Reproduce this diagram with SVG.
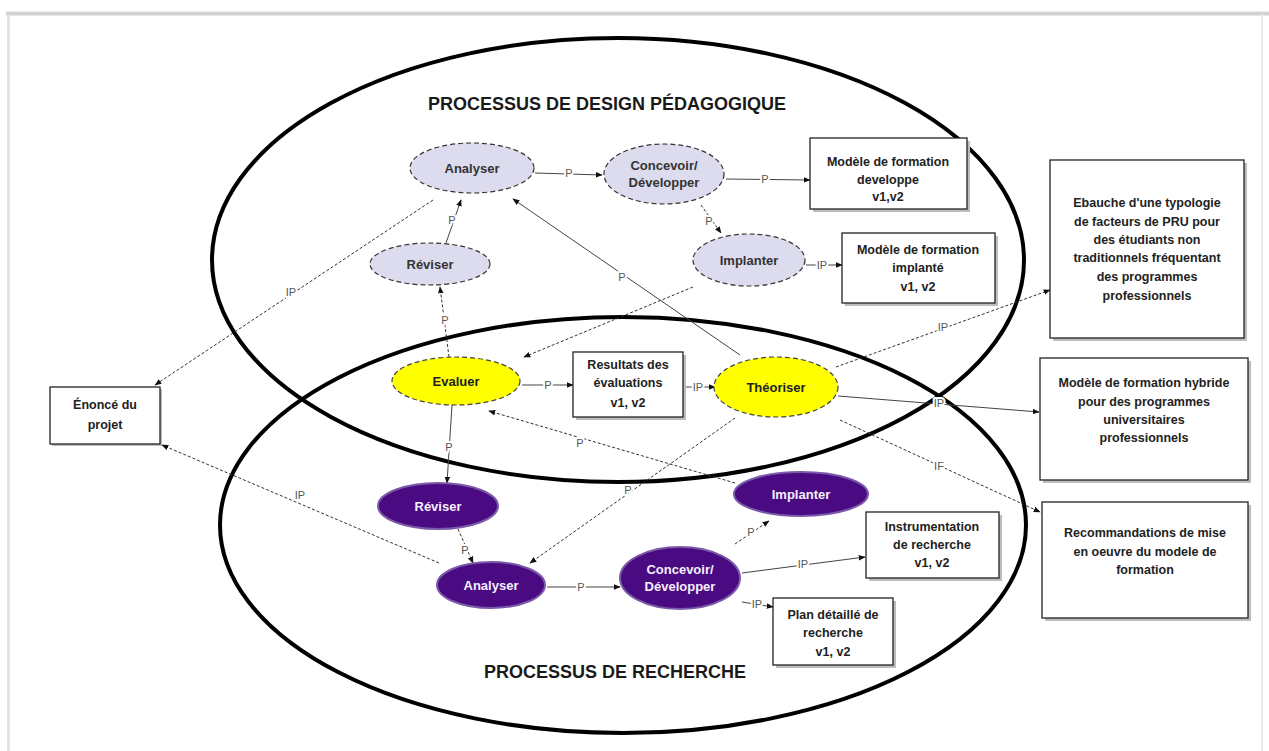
<svg xmlns="http://www.w3.org/2000/svg" width="1269" height="751" viewBox="0 0 1269 751">
<defs>
<marker id="ah" viewBox="0 0 10 10" refX="9" refY="5" markerWidth="7" markerHeight="7" orient="auto-start-reverse" markerUnits="userSpaceOnUse">
<path d="M0,1 L10,5 L0,9 z" fill="#111"/>
</marker>
<linearGradient id="topband" x1="0" y1="0" x2="0" y2="1">
<stop offset="0" stop-color="#f2f2f2"/>
<stop offset="0.5" stop-color="#c8c8c8"/>
<stop offset="1" stop-color="#ececec"/>
</linearGradient>
</defs>
<style>
text{font-family:"Liberation Sans",Arial,sans-serif}
.title{font-size:18px;font-weight:bold;fill:#1a1a1a}
.nt{font-size:13px;font-weight:bold;fill:#333;text-anchor:middle}
.nw{font-size:13px;font-weight:bold;fill:#f4f0ff;text-anchor:middle}
.bt{font-size:12.5px;font-weight:bold;fill:#222;text-anchor:middle}
.lbl{font-size:11px;fill:#555;text-anchor:middle;paint-order:stroke;stroke:#fff;stroke-width:4px;stroke-linejoin:round}
.big{fill:none;stroke:#000;stroke-width:4}
.lav{fill:#dcdcee;stroke:#333;stroke-width:1.2;stroke-dasharray:5,3}
.yel{fill:#ffff00;stroke:#444;stroke-width:1.2;stroke-dasharray:5,3}
.pur{fill:#4a0a82;stroke:#7a5aa8;stroke-width:2}
.box{fill:#fff;stroke:#222;stroke-width:1.3}
.sh{fill:#bdbdbd}
.c{fill:none;stroke:#444;stroke-width:1;marker-end:url(#ah)}
.d{fill:none;stroke:#333;stroke-width:1;stroke-dasharray:3,2;marker-end:url(#ah)}
</style>
<rect x="0" y="0" width="1269" height="751" fill="#fff"/>
<!-- frame -->
<rect x="6" y="11" width="1263" height="5" fill="url(#topband)"/>
<rect x="7" y="14" width="3" height="737" fill="#e4e4e4"/>
<rect x="1261" y="14" width="2" height="737" fill="#ececec"/>

<!-- big ellipses -->
<g id="process-design">
<ellipse class="big" cx="618" cy="260" rx="406" ry="222"/>
<text class="title" x="428" y="110">PROCESSUS DE DESIGN PÉDAGOGIQUE</text>
</g>
<g id="process-recherche">
<ellipse class="big" cx="623" cy="525" rx="403" ry="208"/>
<text class="title" x="484" y="678">PROCESSUS DE RECHERCHE</text>
</g>

<!-- connectors -->
<g id="connectors">
<line class="c" x1="535" y1="173" x2="602" y2="175"/>
<text class="lbl" x="569" y="177">P</text>
<line class="c" x1="726" y1="179" x2="810" y2="180"/>
<text class="lbl" x="765" y="183">P</text>
<line class="d" x1="701" y1="205" x2="721" y2="233"/>
<text class="lbl" x="709" y="225">P</text>
<line class="c" x1="806" y1="265" x2="842" y2="265"/>
<text class="lbl" x="822" y="269">IP</text>
<line class="c" x1="446" y1="243" x2="461" y2="200"/>
<text class="lbl" x="452" y="224">P</text>
<line class="d" x1="449" y1="357" x2="440" y2="287"/>
<text class="lbl" x="445" y="324">P</text>
<line class="d" x1="433" y1="200" x2="155" y2="385"/>
<text class="lbl" x="291" y="296">IP</text>
<line class="c" x1="740" y1="355" x2="513" y2="199"/>
<text class="lbl" x="622" y="281">P</text>
<line class="d" x1="693" y1="287" x2="524" y2="357"/>
<line class="c" x1="522" y1="385" x2="573" y2="385"/>
<text class="lbl" x="548" y="389">P</text>
<line class="c" x1="685" y1="387" x2="715" y2="387"/>
<text class="lbl" x="698" y="391">IP</text>
<line class="d" x1="836" y1="367" x2="1050" y2="290"/>
<text class="lbl" x="943" y="331">IP</text>
<line class="c" x1="838" y1="396" x2="1039" y2="412"/>
<text class="lbl" x="939" y="407">IP</text>
<line class="d" x1="840" y1="420" x2="1040" y2="512"/>
<text class="lbl" x="939" y="470">IF</text>
<line class="d" x1="735" y1="418" x2="530" y2="563"/>
<text class="lbl" x="628" y="494">P</text>
<line class="d" x1="735" y1="483" x2="489" y2="411"/>
<text class="lbl" x="580" y="447">P</text>
<line class="c" x1="452" y1="405" x2="447" y2="483"/>
<text class="lbl" x="449" y="451">P</text>
<line class="d" x1="458" y1="529" x2="473" y2="563"/>
<text class="lbl" x="465" y="554">P</text>
<line class="d" x1="439" y1="563" x2="162" y2="445"/>
<text class="lbl" x="300" y="499">IP</text>
<line class="c" x1="547" y1="587" x2="620" y2="587"/>
<text class="lbl" x="581" y="591">P</text>
<line class="d" x1="735" y1="544" x2="769" y2="521"/>
<text class="lbl" x="751" y="536">P</text>
<line class="c" x1="742" y1="573" x2="865" y2="557"/>
<text class="lbl" x="803" y="568">IP</text>
<line class="c" x1="742" y1="602" x2="773" y2="607"/>
<text class="lbl" x="757" y="608">IP</text>
</g>

<!-- nodes -->
<g id="analyser-design">
<ellipse class="lav" cx="472" cy="168" rx="62" ry="25"/>
<text class="nt" x="472" y="173">Analyser</text>
</g>
<g id="concevoir-design">
<ellipse class="lav" cx="664" cy="174" rx="60" ry="30"/>
<text class="nt" x="664" y="170">Concevoir/</text>
<text class="nt" x="664" y="187">Développer</text>
</g>
<g id="implanter-design">
<ellipse class="lav" cx="749" cy="260" rx="56" ry="26"/>
<text class="nt" x="749" y="265">Implanter</text>
</g>
<g id="reviser-design">
<ellipse class="lav" cx="430" cy="264" rx="60" ry="21"/>
<text class="nt" x="430" y="269">Réviser</text>
</g>
<g id="evaluer">
<ellipse class="yel" cx="456" cy="381" rx="64" ry="24"/>
<text class="nt" x="456" y="386" style="fill:#222">Evaluer</text>
</g>
<g id="theoriser">
<ellipse class="yel" cx="776" cy="387" rx="62" ry="30"/>
<text class="nt" x="776" y="392" style="fill:#222">Théoriser</text>
</g>
<g id="reviser-recherche">
<ellipse class="pur" cx="438" cy="506" rx="60" ry="23"/>
<text class="nw" x="438" y="511">Réviser</text>
</g>
<g id="implanter-recherche">
<ellipse class="pur" cx="801" cy="494" rx="67" ry="22"/>
<text class="nw" x="801" y="499">Implanter</text>
</g>
<g id="analyser-recherche">
<ellipse class="pur" cx="491" cy="585" rx="54" ry="23"/>
<text class="nw" x="491" y="590">Analyser</text>
</g>
<g id="concevoir-recherche">
<ellipse class="pur" cx="680" cy="578" rx="60" ry="31"/>
<text class="nw" x="680" y="574">Concevoir/</text>
<text class="nw" x="680" y="591">Développer</text>
</g>

<g id="modele-developpe">
<rect class="sh" x="813" y="141" width="157" height="71"/>
<rect class="box" x="810" y="138" width="157" height="71"/>
<text class="bt" x="888" y="166">Modèle de formation</text>
<text class="bt" x="888" y="184">developpe</text>
<text class="bt" x="888" y="201">v1,v2</text>
</g>
<g id="modele-implante">
<rect class="sh" x="845" y="236" width="153" height="70"/>
<rect class="box" x="842" y="233" width="153" height="70"/>
<text class="bt" x="918" y="254">Modèle de formation</text>
<text class="bt" x="918" y="272">implanté</text>
<text class="bt" x="918" y="291">v1, v2</text>
</g>
<g id="ebauche">
<rect class="sh" x="1053" y="163" width="194" height="178"/>
<rect class="box" x="1050" y="160" width="194" height="178"/>
<text class="bt" x="1147" y="207">Ebauche d'une typologie</text>
<text class="bt" x="1147" y="226">de facteurs de PRU  pour</text>
<text class="bt" x="1147" y="244">des étudiants non</text>
<text class="bt" x="1147" y="262">traditionnels fréquentant</text>
<text class="bt" x="1147" y="281">des programmes</text>
<text class="bt" x="1147" y="300">professionnels</text>
</g>
<g id="modele-hybride">
<rect class="sh" x="1043" y="361" width="208" height="122"/>
<rect class="box" x="1040" y="358" width="208" height="122"/>
<text class="bt" x="1144" y="387">Modèle de formation hybride</text>
<text class="bt" x="1144" y="406">pour des programmes</text>
<text class="bt" x="1144" y="424">universitaires</text>
<text class="bt" x="1144" y="442">professionnels</text>
</g>
<g id="recommandations">
<rect class="sh" x="1045" y="505" width="206" height="116"/>
<rect class="box" x="1042" y="502" width="206" height="116"/>
<text class="bt" x="1145" y="537">Recommandations de mise</text>
<text class="bt" x="1145" y="556">en oeuvre du modele de</text>
<text class="bt" x="1145" y="574">formation</text>
</g>
<g id="resultats">
<rect class="sh" x="576" y="355" width="110" height="65"/>
<rect class="box" x="573" y="352" width="110" height="65"/>
<text class="bt" x="628" y="369">Resultats des</text>
<text class="bt" x="628" y="387">évaluations</text>
<text class="bt" x="628" y="407">v1, v2</text>
</g>
<g id="enonce">
<rect class="sh" x="52" y="389" width="110" height="57"/>
<rect class="box" x="50" y="387" width="110" height="57"/>
<text class="bt" x="105" y="409">Énoncé du</text>
<text class="bt" x="105" y="429">projet</text>
</g>
<g id="instrumentation">
<rect class="sh" x="869" y="515" width="133" height="66"/>
<rect class="box" x="866" y="512" width="133" height="66"/>
<text class="bt" x="932" y="531">Instrumentation</text>
<text class="bt" x="932" y="549">de recherche</text>
<text class="bt" x="932" y="567">v1, v2</text>
</g>
<g id="plan">
<rect class="sh" x="776" y="601" width="120" height="67"/>
<rect class="box" x="773" y="598" width="120" height="67"/>
<text class="bt" x="833" y="619">Plan détaillé de</text>
<text class="bt" x="833" y="637">recherche</text>
<text class="bt" x="833" y="656">v1, v2</text>
</g>
</svg>
